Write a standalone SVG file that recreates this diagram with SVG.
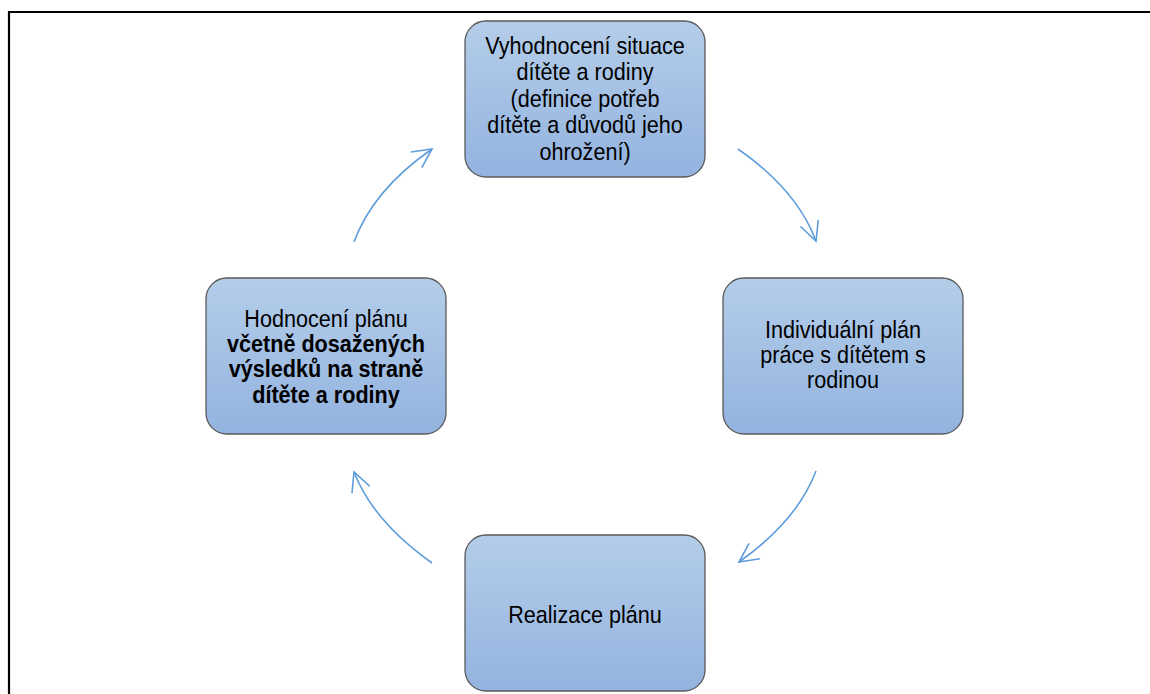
<svg xmlns="http://www.w3.org/2000/svg" width="1150" height="694" viewBox="0 0 1150 694">
<defs>
<linearGradient id="boxfill" x1="0" y1="0" x2="0" y2="1">
<stop offset="0" stop-color="#b4cde9"/>
<stop offset="1" stop-color="#93b3df"/>
</linearGradient>
<marker id="arr" markerUnits="userSpaceOnUse" markerWidth="30" markerHeight="30" refX="0" refY="0" viewBox="-25 -15 30 30" orient="auto">
<polyline points="-19,-9.5 0,0 -19,9.5" fill="none" stroke="#5f9ddb" stroke-width="1.6"/>
</marker>
<style>
.box{fill:url(#boxfill);stroke:#595959;stroke-width:1.3}
.t{font-family:"Liberation Sans",Arial,sans-serif;font-size:24px;fill:#000;text-anchor:middle}
.b{font-weight:bold}
.c{fill:none;stroke:#5f9ddb;stroke-width:1.6;marker-end:url(#arr)}
</style>
</defs>
<rect width="1150" height="694" fill="#fff"/>
<path d="M9,694 V12 H1150" fill="none" stroke="#000" stroke-width="2.2"/>
<g id="node-top">
<rect class="box" x="465" y="21" width="240" height="156" rx="21"/>
<g transform="translate(585,0) scale(0.9,1)">
<text class="t" x="0" y="54">Vyhodnocení situace</text>
<text class="t" x="0" y="80.5">dítěte a rodiny</text>
<text class="t" x="0" y="107">(definice potřeb</text>
<text class="t" x="0" y="133.5">dítěte a důvodů jeho</text>
<text class="t" x="0" y="160">ohrožení)</text>
</g>
</g>
<g id="node-right">
<rect class="box" x="723" y="278" width="240" height="156" rx="21"/>
<g transform="translate(843,0) scale(0.9,1)">
<text class="t" x="0" y="338">Individuální plán</text>
<text class="t" x="0" y="363">práce s dítětem s</text>
<text class="t" x="0" y="388">rodinou</text>
</g>
</g>
<g id="node-bottom">
<rect class="box" x="465" y="535" width="240" height="156" rx="21"/>
<g transform="translate(585,0) scale(0.9,1)">
<text class="t" x="0" y="623">Realizace plánu</text>
</g>
</g>
<g id="node-left">
<rect class="box" x="206" y="278" width="240" height="156" rx="21"/>
<g transform="translate(326,0) scale(0.9,1)">
<text class="t" x="0" y="327">Hodnocení plánu</text>
<text class="t b" x="0" y="352">včetně dosažených</text>
<text class="t b" x="0" y="377.5">výsledků na straně</text>
<text class="t b" x="0" y="403">dítěte a rodiny</text>
</g>
</g>
<g id="connectors">
<path class="c" d="M738,149 Q797,190 816,241"/>
<path class="c" d="M816,471 Q797,521 739,562"/>
<path class="c" d="M432,563 Q373,521 354,472"/>
<path class="c" d="M354,242 Q373,190 432,149"/>
</g>
</svg>
